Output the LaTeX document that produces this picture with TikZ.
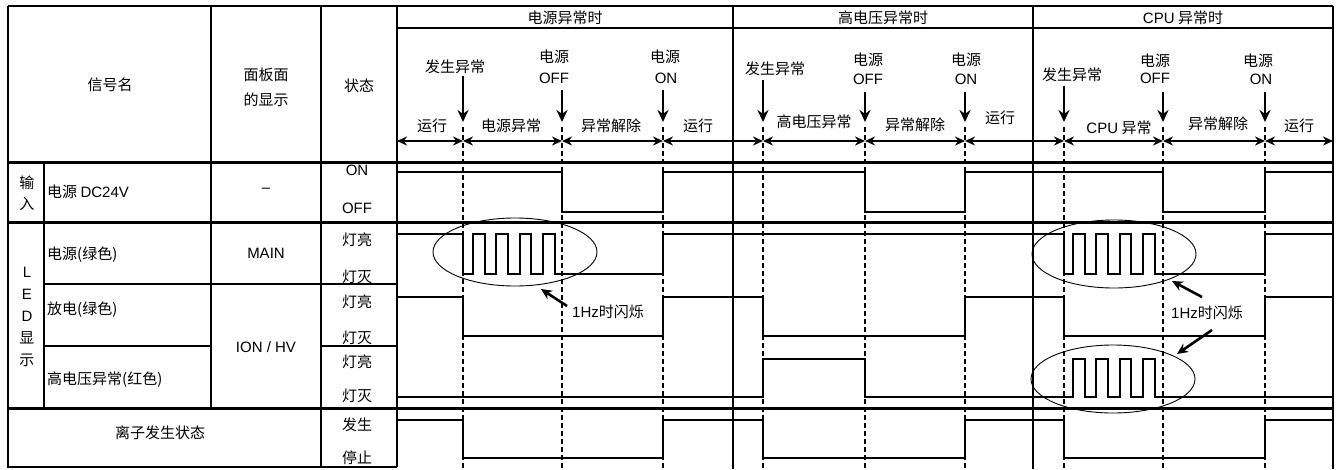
\documentclass[tikz,border=0pt]{standalone}
\usepackage{fontspec}
\setmainfont{Noto Sans CJK SC}
\newfontfamily\lat{Liberation Sans}
\usetikzlibrary{arrows.meta,shapes.geometric}
\newcommand\fsz{\fontsize{15}{17}\selectfont}
\begin{document}
\begin{tikzpicture}[x=1pt,y=-1pt,
  txt/.style={inner sep=0pt,font=\fsz},
  ltxt/.style={inner sep=0pt,font=\fsz\lat},
  thinl/.style={line width=1.1pt},
  thickl/.style={line width=3pt},
  wave/.style={line width=1.9pt,line join=miter},
  evline/.style={line width=1.6pt,dash pattern=on 5pt off 3pt},
  tl/.style={line width=2.3pt,{Stealth[length=10pt,width=9pt]}-{Stealth[length=10pt,width=9pt]}},
  evarrow/.style={line width=2.6pt,-{Stealth[length=12pt,width=11pt]}},
  hzarrow/.style={line width=2.6pt,-{Stealth[length=11pt,width=10pt]}},
  blob/.style={ellipse,draw,line width=0.9pt,inner sep=0pt,minimum width=164pt,minimum height=68pt}
]
\useasboundingbox (0,0) rectangle (1344,469);
\fill[white] (0,0) rectangle (1344,469);

% ---------- table frame ----------
\draw[thinl] (8,6) -- (1333,6);
\draw[thinl] (397,28) -- (1333,28);
\draw[thinl] (8,6) -- (8,467) -- (397,467);
\draw[thinl] (44,162) -- (44,408);
\draw[thinl] (211,6) -- (211,408);
\draw[thinl] (321,6) -- (321,467);
\draw[thinl] (397,6) -- (397,467);
\draw[thinl] (733,6) -- (733,469);
\draw[thinl] (1033,6) -- (1033,469);
\draw[thinl] (1333,6) -- (1333,469);
\draw[thinl] (44,284) -- (397,284);
\draw[thinl] (44,346) -- (211,346);
\draw[thinl] (321,346) -- (397,346);
\draw[thickl] (8,162) -- (1333,162);
\draw[thickl] (8,222) -- (1333,222);
\draw[thickl] (8,408) -- (1333,408);

% ---------- left table texts ----------
\node[txt] (hsig) at (110,85) {信号名};
\node[txt] (hpan1) at (266,75) {面板面};
\node[txt] (hpan2) at (266,100) {的显示};
\node[txt] (hst) at (359,86) {状态};
\node[txt] (in1) at (27,183) {输};
\node[txt] (in2) at (27,204) {入};
\node[txt,anchor=west] (sdc) at (47,192) {电源 {\lat DC24V}};
\node[ltxt] (pdash) at (266,190) {–};
\node[ltxt] (son) at (357,170) {ON};
\node[ltxt] (soff) at (357,208) {OFF};
\node[ltxt] (led1) at (27,272) {L};
\node[ltxt] (led2) at (27,294) {E};
\node[ltxt] (led3) at (27,316) {D};
\node[txt] (led4) at (27,338) {显};
\node[txt] (led5) at (27,360) {示};
\node[txt,anchor=west] (s1) at (47,255) {电源(绿色)};
\node[ltxt] (pmain) at (266,253) {MAIN};
\node[txt] (st1) at (357,240) {灯亮};
\node[txt] (st2) at (357,277) {灯灭};
\node[txt,anchor=west] (s2) at (47,310) {放电(绿色)};
\node[txt] (st3) at (357,302) {灯亮};
\node[txt] (st4) at (357,338) {灯灭};
\node[ltxt] (pion) at (266,347) {ION / HV};
\node[txt,anchor=west] (s3) at (47,380) {高电压异常(红色)};
\node[txt] (st5) at (357,362) {灯亮};
\node[txt] (st6) at (357,396) {灯灭};
\node[txt] (s4) at (160,433) {离子发生状态};
\node[txt] (st7) at (357,425) {发生};
\node[txt] (st8) at (357,458) {停止};

% ---------- section titles ----------
\node[txt] (sec1) at (565,18) {电源异常时};
\node[txt] (sec2) at (883,18) {高电压异常时};
\node[txt] (sec3) at (1183,18) {{\lat CPU} 异常时};

% ---------- event labels ----------
\node[txt] (ev1) at (455,67) {发生异常};
\node[txt] (ev2a) at (554,57) {电源};
\node[ltxt] (ev2b) at (554,78) {OFF};
\node[txt] (ev3a) at (665,57) {电源};
\node[ltxt] (ev3b) at (666,78) {ON};
\node[txt] (ev4) at (775,69) {发生异常};
\node[txt] (ev5a) at (868,60) {电源};
\node[ltxt] (ev5b) at (868,79) {OFF};
\node[txt] (ev6a) at (966,60) {电源};
\node[ltxt] (ev6b) at (966,79) {ON};
\node[txt] (ev7) at (1072,75) {发生异常};
\node[txt] (ev8a) at (1155,61) {电源};
\node[ltxt] (ev8b) at (1155,78) {OFF};
\node[txt] (ev9a) at (1258,61) {电源};
\node[ltxt] (ev9b) at (1261,79) {ON};

% ---------- event coordinates ----------
\foreach \n/\x/\t in {1/463/76,2/562/90,3/663/90,4/763/80,5/865/92,6/965/92,7/1064/86,8/1163/92,9/1265/92}{
  \coordinate (et\n) at (\x,141);
  \coordinate (as\n) at (\x,\t);
  \coordinate (ae\n) at (\x,122);
  \coordinate (vt\n) at (\x,127);
  \coordinate (vb\n) at (\x,469);
}
\coordinate (et0) at (397,141);
\coordinate (et10) at (1333,141);

\foreach \n in {1,...,9}{
  \draw[evarrow] (as\n) -- (ae\n);
  \draw[evline] (vt\n) -- (vb\n);
}
\foreach \a/\b in {0/1,1/2,2/3,3/4,4/5,5/6,6/7,7/8,8/9,9/10}{
  \draw[tl] (et\a) -- (et\b);
}

% ---------- period labels ----------
\node[txt] (p1) at (432,126) {运行};
\node[txt] (p2) at (511,126) {电源异常};
\node[txt] (p3) at (611,126) {异常解除};
\node[txt] (p4) at (698,126) {运行};
\node[txt] (p5) at (814,122) {高电压异常};
\node[txt] (p6) at (915,125) {异常解除};
\node[txt] (p7) at (1000,118) {运行};
\node[txt] (p8) at (1119,128) {{\lat CPU} 异常};
\node[txt] (p9) at (1218,124) {异常解除};
\node[txt] (p10) at (1299,126) {运行};

% ---------- waveforms ----------
% input DC24V
\draw[wave] (397,172) -- (562,172) -- (562,212) -- (663,212) -- (663,172)
  -- (865,172) -- (865,212) -- (965,212) -- (965,172)
  -- (1163,172) -- (1163,212) -- (1265,212) -- (1265,172) -- (1333,172);
% LED power
\draw[wave] (397,234) -- (463,234) -- (463,274) -- (473,274)
  \foreach \k in {0,...,3}{ -- ({473+23.33*\k},234) -- ({484.67+23.33*\k},234) -- ({484.67+23.33*\k},274) -- ({496.33+23.33*\k},274)}
  -- (663,274) -- (663,234) -- (1064,234) -- (1064,274) -- (1073,274)
  \foreach \k in {0,...,3}{ -- ({1073+23.33*\k},234) -- ({1084.67+23.33*\k},234) -- ({1084.67+23.33*\k},274) -- ({1096.33+23.33*\k},274)}
  -- (1265,274) -- (1265,234) -- (1333,234);
% discharge
\draw[wave] (397,297) -- (463,297) -- (463,336) -- (663,336) -- (663,297)
  -- (763,297) -- (763,336) -- (965,336) -- (965,297)
  -- (1064,297) -- (1064,336) -- (1265,336) -- (1265,297) -- (1333,297);
% high voltage error
\draw[wave] (397,397) -- (763,397) -- (763,359) -- (865,359) -- (865,397) -- (1073,397)
  \foreach \k in {0,...,3}{ -- ({1073+23.33*\k},359) -- ({1084.67+23.33*\k},359) -- ({1084.67+23.33*\k},397) -- ({1096.33+23.33*\k},397)}
  -- (1333,397);
% ion generation
\draw[wave] (397,420) -- (463,420) -- (463,458) -- (663,458) -- (663,420)
  -- (763,420) -- (763,458) -- (965,458) -- (965,420)
  -- (1064,420) -- (1064,458) -- (1265,458) -- (1265,420) -- (1333,420);

% ---------- blinking marks ----------
\node[blob] (bl1) at (515,252) {};
\node[blob] (bl2) at (1114,254) {};
\node[blob] (bl3) at (1113,379) {};
\node[txt,anchor=west] (hz1) at (572,312) {{\lat 1Hz}时闪烁};
\node[txt] (hz2) at (1207,313) {{\lat 1Hz}时闪烁};
\coordinate (hz1s) at (567,306);
\coordinate (hz1e) at (541,289);
\coordinate (hz2s) at (1202,297);
\coordinate (hz2e) at (1172,281);
\coordinate (hz3s) at (1212,330);
\coordinate (hz3e) at (1177,354);
\draw[hzarrow] (hz1s) -- (hz1e);
\draw[hzarrow] (hz2s) -- (hz2e);
\draw[hzarrow] (hz3s) -- (hz3e);
\end{tikzpicture}
\end{document}
